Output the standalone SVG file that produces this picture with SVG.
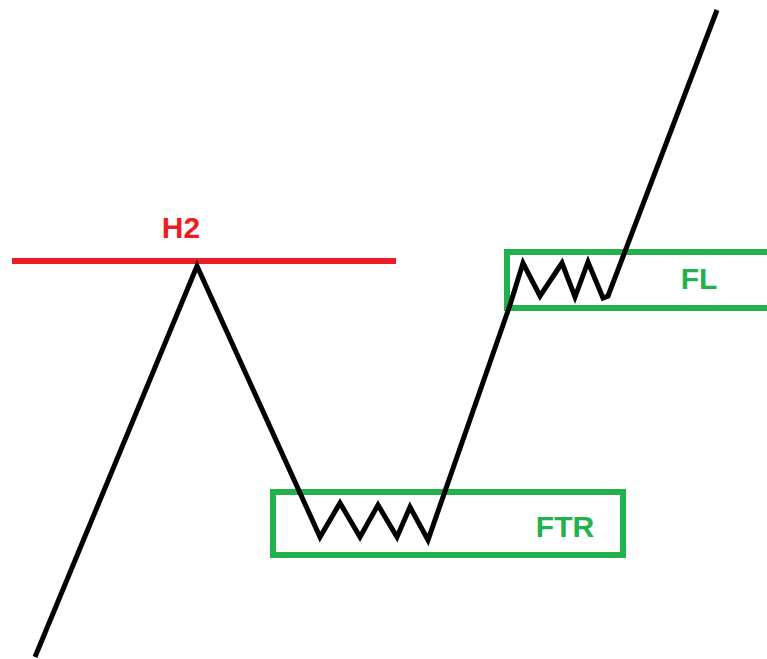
<svg xmlns="http://www.w3.org/2000/svg" width="767" height="659" viewBox="0 0 767 659">
<style>
.lbl{font-family:"Liberation Sans",Arial,sans-serif;font-weight:bold;font-size:30px}
.g{fill:#22b14c}
.r{fill:#ed1c24}
.box{fill:none;stroke:#22b14c;stroke-width:6}
.price{fill:none;stroke:#000;stroke-width:5;stroke-linejoin:miter;stroke-miterlimit:10}
</style>
<rect width="767" height="659" fill="#fff"/>
<g id="h2">
<line x1="12" y1="261" x2="396" y2="261" stroke="#ed1c24" stroke-width="6"/>
<text class="lbl r" x="181" y="238" text-anchor="middle">H2</text>
</g>
<g id="ftr">
<rect class="box" x="273" y="492" width="350" height="63"/>
<text class="lbl g" x="565" y="537" text-anchor="middle">FTR</text>
</g>
<g id="fl">
<rect class="box" x="507" y="252" width="280" height="56"/>
<text class="lbl g" x="699" y="289" text-anchor="middle">FL</text>
</g>
<g id="connectors">
<polyline class="price" points="35,657 197,266 320,537 340,503 360,537 378,505 397,537 410,507 428,540 510,305 523,263 540,296 562,263 575,297 588,262 603,298 608,296 717,10"/>
</g>
</svg>
